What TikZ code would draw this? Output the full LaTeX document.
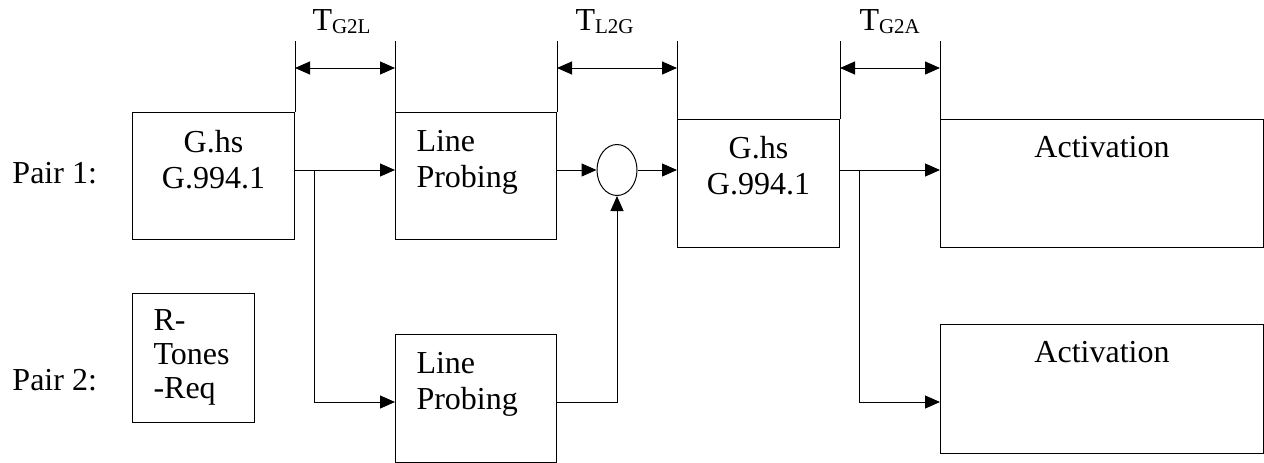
\documentclass[tikz,border=0pt]{standalone}
\usepackage{fontspec}
\setmainfont{Liberation Serif}
\usepackage{tikz}
\usetikzlibrary{positioning, arrows.meta, shapes, calc}

\newcommand{\tsub}[1]{T\raisebox{-4pt}{\fontsize{21}{21}\selectfont #1}}

\begin{document}
\begin{tikzpicture}[x=1pt, y=-1pt, line width=1pt,
  font=\fontsize{32}{36}\selectfont,
  box/.style={draw, rectangle, inner sep=0pt, anchor=north west},
  txt/.style={inner sep=0pt, align=center},
  flow/.style={-{Triangle[length=15pt, width=13pt]}},
  span/.style={{Triangle[length=15pt, width=13pt]}-{Triangle[length=15pt, width=13pt]}}]
\useasboundingbox (0,0) rectangle (1264,463);
\coordinate (top) at (0,41);
\coordinate (dimy) at (0,68);
\coordinate (lev1) at (0,170);
\coordinate (lev2) at (0,402);

% Pair labels
\node[anchor=base west, inner sep=0pt] (pair1) at (12,183) {Pair 1:};
\node[anchor=base west, inner sep=0pt] (pair2) at (12,390) {Pair 2:};

% blocks
\node[box, minimum width=162pt, minimum height=127pt] (ghs1) at (132,112) {};
\node[box, minimum width=122pt, minimum height=129pt] (rtr) at (132,293) {};
\node[box, minimum width=161pt, minimum height=127pt] (lp1) at (395,112) {};
\node[box, minimum width=161pt, minimum height=128pt] (lp2) at (395,334) {};
\node[box, minimum width=162pt, minimum height=128pt] (ghs2) at (677,119) {};
\node[box, minimum width=323pt, minimum height=128pt] (act1) at (940,119) {};
\node[box, minimum width=323pt, minimum height=129pt] (act2) at (940,324) {};
\node[draw, ellipse, inner sep=0pt, minimum width=40pt, minimum height=51pt] (sum) at (617,170) {};

% block texts
\node[txt, anchor=north] (ghs1t) at ($(ghs1.north)+(0,18)$) {G.hs\\G.994.1};
\node[txt, align=left, anchor=north west, font=\fontsize{32}{34}\selectfont] (rtrt) at ($(rtr.north west)+(21,16)$) {R-\\Tones\\-Req};
\node[txt, align=left, anchor=north west] (lp1t) at ($(lp1.north west)+(21,18)$) {Line\\Probing};
\node[txt, align=left, anchor=north west] (lp2t) at ($(lp2.north west)+(21,18)$) {Line\\Probing};
\node[txt, anchor=north] (ghs2t) at ($(ghs2.north)+(0,17)$) {G.hs\\G.994.1};
\node[txt, anchor=north] (act1t) at ($(act1.north)+(0,17)$) {Activation};
\node[txt, anchor=north] (act2t) at ($(act2.north)+(0,17)$) {Activation};

% timing marks
\draw (ghs1.north east) -- (ghs1.north east |- top);
\draw (lp1.north west) -- (lp1.north west |- top);
\draw (lp1.north east) -- (lp1.north east |- top);
\draw (ghs2.north west) -- (ghs2.north west |- top);
\draw (ghs2.north east) -- (ghs2.north east |- top);
\draw (act1.north west) -- (act1.north west |- top);
\draw[span] (ghs1.north east |- dimy) -- (lp1.north west |- dimy);
\draw[span] (lp1.north east |- dimy) -- (ghs2.north west |- dimy);
\draw[span] (ghs2.north east |- dimy) -- (act1.north west |- dimy);
\node[anchor=base west, inner sep=0pt] (tg2l) at (312,30) {\tsub{G2L}};
\node[anchor=base west, inner sep=0pt] (tl2g) at (575,30) {\tsub{L2G}};
\node[anchor=base west, inner sep=0pt] (tg2a) at (859,30) {\tsub{G2A}};

% signal flow
\coordinate (br1) at (314,170);
\coordinate (br2) at (859,170);
\draw[flow] (ghs1.east |- lev1) -- (lp1.west |- lev1);
\draw[flow] (br1) |- (lp2.west |- lev2);
\draw[flow] (lp1.east |- lev1) -- (sum.west);
\draw[flow] (lp2.east |- lev2) -| (sum.south);
\draw[flow] (sum.east) -- (ghs2.west |- lev1);
\draw[flow] (ghs2.east |- lev1) -- (act1.west |- lev1);
\draw[flow] (br2) |- (act2.west |- lev2);
\end{tikzpicture}
\end{document}
